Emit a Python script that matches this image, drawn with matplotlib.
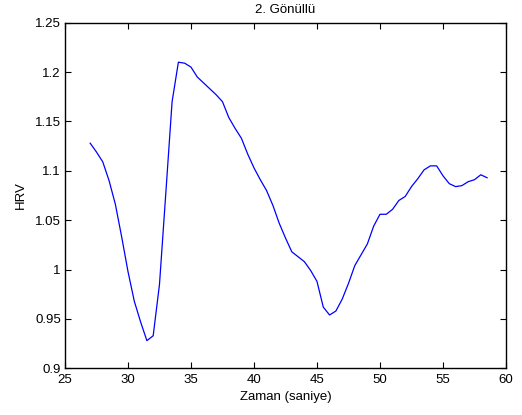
import numpy as np
import matplotlib
matplotlib.use("Agg")
import matplotlib.pyplot as plt

plt.rcParams['font.family'] = ['Liberation Sans', 'DejaVu Sans']

# zaman ekseni (0.5 s aralik) ve HRV degerleri
zaman = np.arange(27, 59, 0.5)
hrv = [1.128, 1.119, 1.109, 1.090, 1.066, 1.033, 0.998, 0.968, 0.947, 0.928,
       0.933, 0.985, 1.077, 1.170, 1.210, 1.209, 1.205, 1.195, 1.189, 1.183,
       1.177, 1.170, 1.154, 1.143, 1.133, 1.117, 1.103, 1.091, 1.080, 1.065,
       1.047, 1.032, 1.018, 1.013, 1.008, 0.999, 0.988, 0.962, 0.954, 0.958,
       0.970, 0.986, 1.004, 1.015, 1.026, 1.044, 1.056, 1.056, 1.061, 1.070,
       1.074, 1.084, 1.092, 1.101, 1.105, 1.105, 1.095, 1.087, 1.084, 1.085,
       1.089, 1.091, 1.096, 1.093]

xticks = [25, 30, 35, 40, 45, 50, 55, 60]
yticks = [0.9, 0.95, 1, 1.05, 1.1, 1.15, 1.2, 1.25]

fs = 9.5

fig = plt.figure(figsize=(5.22, 4.15), dpi=100)
ax = fig.add_axes([0.1245, 0.1125, 0.8448, 0.8328])

ax.plot(zaman, hrv, color='#0000ff', linewidth=0.9)

ax.set_xlim(25, 60)
ax.set_ylim(0.9, 1.25)
ax.set_xticks(xticks)
ax.set_xticklabels([str(v) for v in xticks])
ax.set_yticks(yticks)
ax.set_yticklabels(['0.9', '0.95', '1', '1.05', '1.1', '1.15', '1.2', '1.25'])
ax.tick_params(direction='in', length=4, width=0.8, top=True, right=True,
               labelsize=fs, colors='black')
ax.tick_params(axis='x', pad=4)
ax.tick_params(axis='y', pad=3)
for s in ax.spines.values():
    s.set_linewidth(1.0)

ax.set_xlabel('Zaman (saniye)', fontsize=fs, labelpad=4)
ax.set_ylabel('HRV', fontsize=fs, labelpad=6)
ax.set_title('2. Gönüllü', fontsize=fs, pad=7)

fig.savefig('out.png', dpi=100)
